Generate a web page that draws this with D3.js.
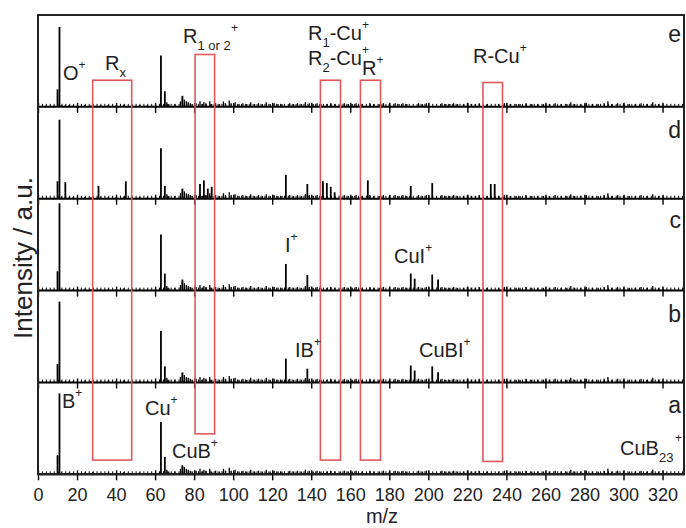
<!DOCTYPE html>
<html>
<head>
<meta charset="utf-8">
<script src="https://cdn.jsdelivr.net/npm/d3@7"></script>
<style>
  html, body { margin: 0; padding: 0; background: #fff; }
  svg { display: block; font-family: "Liberation Sans", Arial, Helvetica, sans-serif; }
</style>
</head>
<body>
<svg id="chart" width="686" height="528"></svg>
<script>
// ---- data -------------------------------------------------------------
// stacked spectra, top to bottom
const panels = ["e", "d", "c", "b", "a"];

// m/z axis ticks
const majorTicks = d3.range(0, 321, 20);
const minorTicks = d3.range(0, 331, 2);

// background ion signal common to every spectrum: [m/z, intensity]
const background = [
  [12, 2], [14, 1.5], [16, 2], [18, 1.5], [24, 2], [27, 1.5], [28, 2.5], [32, 1.5], [36, 2],
  [40, 1.5], [44, 2.5], [48, 1.5], [52, 2], [56, 1.5], [66, 5], [67, 3], [70, 3], [73, 6],
  [74, 10], [75, 8], [76, 6], [77, 5], [78, 4], [79, 3], [81, 4], [83, 6], [84, 3], [85, 5],
  [86, 4], [88, 6], [89, 3], [91, 4], [93, 3], [95, 6], [96, 4], [98, 7], [99, 4], [101, 5],
  [103, 3], [105, 4], [107, 3], [109, 5], [111, 3], [113, 4], [115, 3], [117, 5], [119, 3],
  [121, 4], [123, 3], [125, 3], [129, 4], [131, 3], [133, 4], [135, 3], [137, 5], [139, 4],
  [141, 3], [143, 4], [145, 3], [148, 3], [150, 4], [152, 3], [155, 3], [157, 4], [159, 3],
  [161, 3], [163, 4], [166, 3], [170, 4], [172, 3], [175, 3], [177, 4], [180, 3], [183, 4],
  [185, 3], [187, 4], [189, 3], [195, 4], [197, 3], [199, 4], [207, 4], [209, 3], [211, 3],
  [213, 4], [215, 3], [218, 3], [220, 4], [222, 3], [224, 3], [226, 4], [230, 3], [236, 3],
  [239, 4], [242, 3], [245, 3], [247, 3], [250, 4], [253, 3], [256, 3], [259, 3], [262, 3],
  [265, 4], [268, 3], [271, 3], [273, 5], [275, 3], [278, 3], [281, 4], [284, 3], [287, 3],
  [290, 4], [292, 6], [294, 3], [297, 4], [300, 3], [303, 3], [306, 3], [309, 4], [312, 3],
  [315, 5], [318, 3]
];

// assigned peaks of each spectrum: [m/z, intensity]
const peaksE = [[10, 19], [11, 87], [63, 56], [65, 17], [74, 12]];
const peaksD = [
  [10, 19], [11, 86], [14, 18], [31, 14], [45, 19], [63, 55], [65, 14], [74, 11],
  [83, 16], [85, 20], [87, 11], [89, 13], [127, 26], [138, 16], [146, 19], [148, 17],
  [150, 13], [152, 7], [169, 20], [191, 14], [202, 17], [232, 16], [234, 16]
];
const peaksC = [
  [10, 21], [11, 95], [63, 61], [65, 18.5], [74, 12], [127, 29], [138, 17],
  [191, 18.5], [193, 13], [202, 17.5], [205, 12]
];
const peaksB = [
  [10, 20], [11, 88], [63, 56], [65, 17.5], [74, 11], [127, 26], [138, 15],
  [191, 18.5], [193, 13], [202, 17.5], [205, 11]
];
const peaksA = [[10, 21], [11, 88], [63, 57], [65, 19], [74, 9]];
const peaks = { e: peaksE, d: peaksD, c: peaksC, b: peaksB, a: peaksA };

// highlighted m/z windows: [from, to, top (intensity in e), bottom (intensity in a)]
const windows = [
  [28, 48, 29, 15.5],
  [80.5, 90.5, 57, 44],
  [144.7, 155, 29, 15.5],
  [165.2, 175.5, 29, 15.5],
  [228, 238, 26.5, 14]
];

// ---- layout -------------------------------------------------------------
const svg = d3.select("#chart");
const plotLeft = 38, plotRight = 684, plotTop = 15, plotBottom = 474.3;
const panelH = (plotBottom - plotTop) / panels.length;

const x = d3.scaleLinear().domain([0, 331]).range([plotLeft, plotRight]);
const baseline = p => plotTop + (panels.indexOf(p) + 1) * panelH;
const yFor = p => d3.scaleLinear().domain([0, 100]).range([baseline(p), baseline(p) - panelH]);

// ---- spectra ------------------------------------------------------------
panels.forEach(p => {
  const y = yFor(p);
  const g = svg.append("g").attr("class", "spectrum-" + p);

  g.selectAll("line.bg").data(background).join("line")
    .attr("class", "bg")
    .attr("x1", d => x(d[0])).attr("x2", d => x(d[0]))
    .attr("y1", y(0)).attr("y2", d => y(d[1]))
    .attr("stroke", "#000").attr("stroke-width", 1.3);

  g.selectAll("line.pk").data(peaks[p]).join("line")
    .attr("class", "pk")
    .attr("x1", d => x(d[0])).attr("x2", d => x(d[0]))
    .attr("y1", y(0)).attr("y2", d => y(d[1]))
    .attr("stroke", "#000").attr("stroke-width", 1.8);

  // minor ticks pointing up
  const minor = d3.axisBottom(x).tickValues(minorTicks).tickSizeInner(-3).tickSizeOuter(0).tickFormat("");
  g.append("g").attr("transform", `translate(0,${y(0)})`).call(minor)
    .call(a => a.select(".domain").remove())
    .selectAll("line").attr("stroke-width", 1);

  // major ticks crossing the axis
  const major = d3.axisBottom(x).tickValues(majorTicks).tickSizeInner(6).tickSizeOuter(0)
    .tickPadding(8).tickFormat(p === "a" ? d3.format("d") : "");
  const ax = g.append("g").attr("transform", `translate(0,${y(0)})`).call(major);
  ax.select(".domain").remove();
  ax.selectAll(".tick line").attr("y1", -4).attr("stroke-width", 1.4);
  ax.selectAll("text").attr("font-size", 18).attr("fill", "#222")
    .attr("font-family", "'Liberation Sans', Arial, sans-serif");

  g.append("line")
    .attr("x1", plotLeft).attr("x2", plotRight)
    .attr("y1", y(0)).attr("y2", y(0))
    .attr("stroke", "#000").attr("stroke-width", 2);
});

// ---- highlighted windows --------------------------------------------------
const yTop = yFor("e"), yBot = yFor("a");
svg.append("g").selectAll("rect").data(windows).join("rect")
  .attr("x", d => x(d[0]))
  .attr("width", d => x(d[1]) - x(d[0]))
  .attr("y", d => yTop(d[2]))
  .attr("height", d => yBot(d[3]) - yTop(d[2]))
  .attr("fill", "none").attr("stroke", "#e0585c").attr("stroke-width", 1.6);

// ---- frame ----------------------------------------------------------------
svg.append("rect")
  .attr("x", plotLeft).attr("y", plotTop)
  .attr("width", plotRight - plotLeft).attr("height", plotBottom - plotTop)
  .attr("fill", "none").attr("stroke", "#222").attr("stroke-width", 2);

// ---- text -----------------------------------------------------------------
const txt = svg.append("g").attr("fill", "#222").attr("font-size", 20);

// parts: [text, kind] where kind is "n" normal, "sub" subscript, "sup" superscript,
// "p" small character sitting on the given baseline
function label(px, py, parts) {
  const t = txt.append("text").attr("x", px).attr("y", py);
  let shift = 0;
  parts.forEach(([s, kind]) => {
    const target = kind === "sub" ? 7 : kind === "sup" ? -11 : 0;
    const size = kind === "sub" ? 13 : (kind === "sup" || kind === "p") ? 12 : 20;
    t.append("tspan")
      .attr("dy", target - shift)
      .attr("font-size", size)
      .text(s);
    shift = target;
  });
  return t;
}

// e
label(63, 80, [["O", "n"], ["+", "sup"]]);
label(105, 70, [["R", "n"], ["x", "sub"]]);
label(183, 43, [["R", "n"], ["1 or 2", "sub"]]);
label(231, 32, [["+", "p"]]);
label(308, 40, [["R", "n"], ["1", "sub"], ["-Cu", "n"], ["+", "sup"]]);
label(308, 65, [["R", "n"], ["2", "sub"], ["-Cu", "n"], ["+", "sup"]]);
label(362, 75, [["R", "n"], ["+", "sup"]]);
label(473, 63, [["R-Cu", "n"], ["+", "sup"]]);
// c
label(285, 252, [["I", "n"], ["+", "sup"]]);
label(394, 263, [["CuI", "n"], ["+", "sup"]]);
// b
label(295, 357, [["IB", "n"], ["+", "sup"]]);
label(419, 357, [["CuBI", "n"], ["+", "sup"]]);
// a
label(62, 408, [["B", "n"], ["+", "sup"]]);
label(145, 415, [["Cu", "n"], ["+", "sup"]]);
label(172, 458, [["CuB", "n"], ["+", "sup"]]);
label(620, 455, [["CuB", "n"], ["23", "sub"]]);
label(675, 442, [["+", "p"]]);

// spectrum letters
const letterY = { e: 42, d: 138, c: 228, b: 322, a: 413 };
txt.selectAll("text.letter").data(panels).join("text")
  .attr("class", "letter")
  .attr("x", 681).attr("y", d => letterY[d])
  .attr("text-anchor", "end").attr("font-size", 23)
  .text(d => d);

// axis titles
txt.append("text")
  .attr("x", (plotLeft + plotRight) / 2 + 21).attr("y", 523)
  .attr("text-anchor", "middle").attr("font-size", 20)
  .text("m/z");

txt.append("text")
  .attr("transform", "translate(32,258) rotate(-90)")
  .attr("text-anchor", "middle").attr("font-size", 26)
  .text("Intensity / a.u.");
</script>
</body>
</html>
